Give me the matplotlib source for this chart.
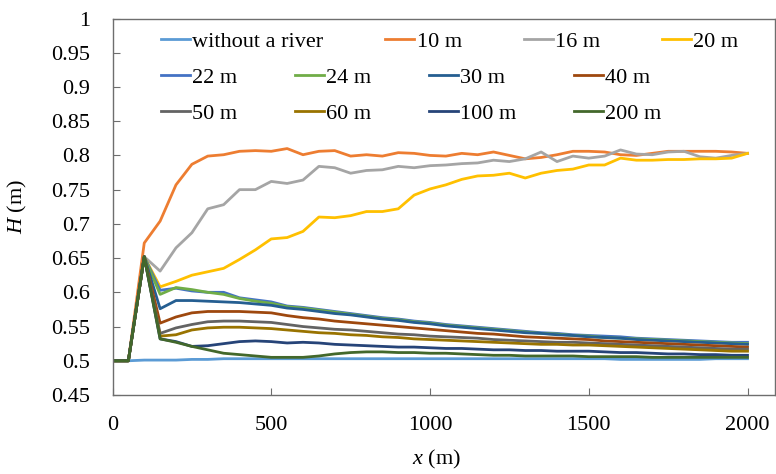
import matplotlib
matplotlib.use("Agg")
import matplotlib.pyplot as plt
from matplotlib.ticker import FuncFormatter

plt.rcParams['font.family'] = ['Liberation Serif', 'DejaVu Serif']
plt.rcParams['mathtext.fontset'] = 'custom'
plt.rcParams['mathtext.rm'] = 'Liberation Serif'
plt.rcParams['mathtext.it'] = 'Liberation Serif:italic'

# distance along the channel, every 50 m
x = list(range(0, 2001, 50))

h_no_river = [0.500, 0.500, 0.501, 0.501, 0.501, 0.502, 0.502, 0.503, 0.503, 0.503,
              0.503, 0.503, 0.503, 0.503, 0.503, 0.503, 0.503, 0.503, 0.503, 0.503,
              0.503, 0.503, 0.503, 0.503, 0.503, 0.503, 0.503, 0.503, 0.503, 0.503,
              0.503, 0.503, 0.502, 0.502, 0.502, 0.502, 0.502, 0.502, 0.503, 0.503, 0.503]
h_10 = [0.500, 0.500, 0.672, 0.704, 0.757, 0.787, 0.799, 0.801, 0.806, 0.807,
        0.806, 0.810, 0.801, 0.806, 0.807, 0.799, 0.801, 0.799, 0.804, 0.803,
        0.800, 0.799, 0.803, 0.801, 0.805, 0.800, 0.795, 0.797, 0.801, 0.806,
        0.806, 0.805, 0.801, 0.800, 0.803, 0.806, 0.806, 0.806, 0.806, 0.805, 0.803]
h_16 = [0.500, 0.500, 0.652, 0.631, 0.665, 0.687, 0.722, 0.728, 0.750, 0.750,
        0.762, 0.759, 0.764, 0.784, 0.782, 0.774, 0.778, 0.779, 0.784, 0.782,
        0.785, 0.786, 0.788, 0.789, 0.793, 0.791, 0.795, 0.805, 0.791, 0.799,
        0.796, 0.799, 0.808, 0.802, 0.801, 0.805, 0.806, 0.798, 0.796, 0.800, 0.803]
h_20 = [0.500, 0.500, 0.652, 0.608, 0.616, 0.625, 0.630, 0.635, 0.648, 0.662,
        0.678, 0.680, 0.689, 0.710, 0.709, 0.712, 0.718, 0.718, 0.722, 0.742,
        0.751, 0.757, 0.765, 0.770, 0.771, 0.774, 0.767, 0.774, 0.778, 0.780,
        0.786, 0.786, 0.796, 0.793, 0.793, 0.794, 0.794, 0.795, 0.795, 0.796, 0.803]
h_22 = [0.500, 0.500, 0.652, 0.603, 0.606, 0.602, 0.600, 0.600, 0.592, 0.589,
        0.586, 0.580, 0.578, 0.575, 0.572, 0.569, 0.566, 0.563, 0.561, 0.558,
        0.556, 0.553, 0.551, 0.549, 0.547, 0.545, 0.543, 0.541, 0.540, 0.538,
        0.537, 0.536, 0.535, 0.533, 0.532, 0.531, 0.530, 0.529, 0.528, 0.527, 0.527]
h_24 = [0.500, 0.500, 0.652, 0.597, 0.607, 0.604, 0.600, 0.597, 0.591, 0.587,
        0.584, 0.579, 0.577, 0.574, 0.571, 0.568, 0.565, 0.562, 0.560, 0.557,
        0.555, 0.552, 0.550, 0.548, 0.546, 0.544, 0.542, 0.540, 0.539, 0.537,
        0.536, 0.534, 0.533, 0.532, 0.531, 0.530, 0.529, 0.528, 0.527, 0.526, 0.525]
h_30 = [0.500, 0.500, 0.652, 0.576, 0.588, 0.588, 0.587, 0.586, 0.585, 0.583,
        0.581, 0.577, 0.575, 0.572, 0.569, 0.567, 0.564, 0.561, 0.559, 0.556,
        0.554, 0.551, 0.549, 0.547, 0.545, 0.543, 0.541, 0.540, 0.538, 0.537,
        0.535, 0.534, 0.533, 0.531, 0.530, 0.529, 0.528, 0.527, 0.526, 0.525, 0.524]
h_40 = [0.500, 0.500, 0.652, 0.555, 0.564, 0.570, 0.572, 0.572, 0.572, 0.571,
        0.570, 0.566, 0.563, 0.561, 0.558, 0.556, 0.554, 0.552, 0.550, 0.548,
        0.546, 0.544, 0.542, 0.540, 0.539, 0.537, 0.535, 0.534, 0.533, 0.532,
        0.531, 0.529, 0.528, 0.527, 0.526, 0.525, 0.524, 0.523, 0.522, 0.521, 0.520]
h_50 = [0.500, 0.500, 0.652, 0.540, 0.548, 0.553, 0.557, 0.558, 0.558, 0.557,
        0.556, 0.553, 0.550, 0.548, 0.546, 0.545, 0.543, 0.541, 0.539, 0.538,
        0.536, 0.535, 0.534, 0.533, 0.531, 0.530, 0.529, 0.528, 0.527, 0.527,
        0.526, 0.525, 0.524, 0.523, 0.522, 0.521, 0.520, 0.519, 0.518, 0.517, 0.517]
h_60 = [0.500, 0.500, 0.652, 0.536, 0.538, 0.545, 0.548, 0.549, 0.549, 0.548,
        0.547, 0.545, 0.543, 0.541, 0.540, 0.538, 0.537, 0.535, 0.534, 0.532,
        0.531, 0.530, 0.529, 0.528, 0.527, 0.526, 0.525, 0.524, 0.524, 0.523,
        0.523, 0.522, 0.521, 0.520, 0.519, 0.518, 0.517, 0.516, 0.515, 0.514, 0.514]
h_100 = [0.500, 0.500, 0.652, 0.532, 0.528, 0.521, 0.522, 0.525, 0.528, 0.529,
         0.528, 0.526, 0.527, 0.526, 0.524, 0.523, 0.522, 0.521, 0.520, 0.520,
         0.519, 0.518, 0.518, 0.517, 0.516, 0.516, 0.515, 0.515, 0.514, 0.514,
         0.514, 0.513, 0.512, 0.512, 0.511, 0.510, 0.510, 0.509, 0.509, 0.508, 0.508]
h_200 = [0.500, 0.500, 0.652, 0.532, 0.527, 0.521, 0.516, 0.511, 0.509, 0.507,
         0.505, 0.505, 0.505, 0.507, 0.510, 0.512, 0.513, 0.513, 0.512, 0.512,
         0.511, 0.511, 0.510, 0.509, 0.508, 0.508, 0.507, 0.507, 0.507, 0.507,
         0.506, 0.506, 0.506, 0.506, 0.505, 0.505, 0.505, 0.505, 0.505, 0.505, 0.505]

labels = ["without a river", "10 m", "16 m", "20 m", "22 m", "24 m",
          "30 m", "40 m", "50 m", "60 m", "100 m", "200 m"]
series = [h_no_river, h_10, h_16, h_20, h_22, h_24,
          h_30, h_40, h_50, h_60, h_100, h_200]
colors = ["#5B9BD5", "#ED7D31", "#A5A5A5", "#FFC000", "#4472C4", "#70AD47",
          "#255E91", "#9E480E", "#636363", "#997300", "#264478", "#43682B"]

W, H = 776, 474
fig = plt.figure(figsize=(W / 100, H / 100), dpi=100)
ax = fig.add_axes([112.5 / W, 79 / H, 662 / W, 376.5 / H])

lines = []
for y, lab, c in zip(series, labels, colors):
    ln, = ax.plot(x, y, color=c, lw=2, label=lab, solid_joinstyle='round')
    lines.append(ln)

ax.set_xlim(0, 2085)
ax.set_ylim(0.45, 1.0)
ax.set_xticks([0, 500, 1000, 1500, 2000])
ax.set_yticks([0.45 + 0.05 * i for i in range(12)])
ax.yaxis.set_major_formatter(FuncFormatter(lambda v, p: f"{round(v, 2):g}"))

for s in ax.spines.values():
    s.set_color("#6e6e6e")
    s.set_linewidth(1)
ax.tick_params(direction='in', length=5, color="#6e6e6e", labelsize=16)
ax.tick_params(axis='y', pad=16)
ax.tick_params(axis='x', pad=15)

ax.set_xlabel("$x$ (m)", fontsize=16)
ax.set_ylabel("$H$ (m)", fontsize=16)
ax.xaxis.set_label_coords((436 - 112.5) / 662, -(448 - 395) / 376.5)
ax.yaxis.set_label_coords(-(112.5 - 29) / 662, 0.5)

# Excel lays the first row out wider than the other two, so two legends
leg_kw = dict(frameon=False, fontsize=16, handlelength=1.3, handletextpad=0.1,
              borderpad=0, borderaxespad=0, loc='upper left')
leg1 = ax.legend(handles=lines[:4], ncol=4, columnspacing=2.8,
                 bbox_to_anchor=(161 / W, 1 - 31 / H),
                 bbox_transform=fig.transFigure, **leg_kw)
ax.add_artist(leg1)
# matplotlib fills legend columns first, so interleave the two rows
rest = lines[4:]
order = [rest[0], rest[4], rest[1], rest[5], rest[2], rest[6], rest[3], rest[7]]
ax.legend(handles=order, ncol=4, columnspacing=2.6, labelspacing=0.7,
          bbox_to_anchor=(161 / W, 1 - 67 / H),
          bbox_transform=fig.transFigure, **leg_kw)

fig.savefig("out.png", dpi=100)
